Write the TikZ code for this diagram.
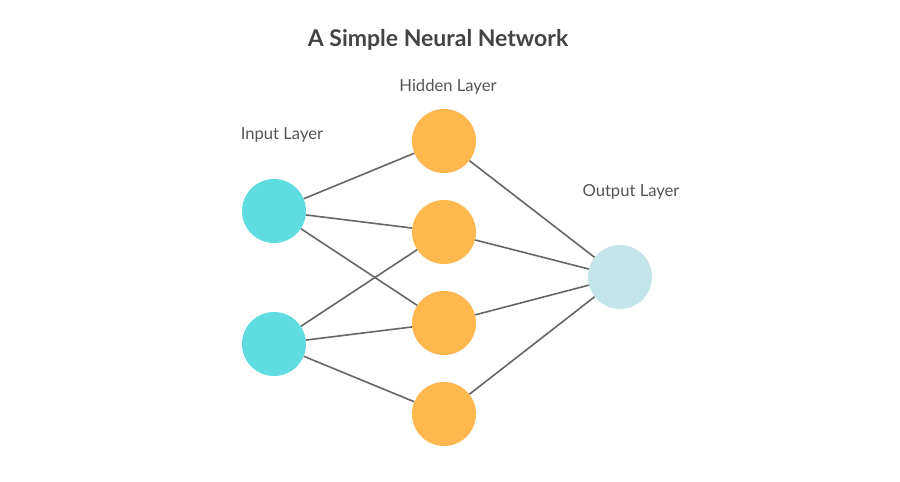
\documentclass[tikz,border=0pt]{standalone}
\usepackage{fontspec}
\setmainfont{Lato}
\definecolor{inputc}{HTML}{5FDCE0}
\definecolor{hiddenc}{HTML}{FFB84D}
\definecolor{outputc}{HTML}{C4E5E8}
\definecolor{linec}{HTML}{666666}
\definecolor{textc}{HTML}{555555}
\definecolor{titlec}{HTML}{444444}
\begin{document}
\begin{tikzpicture}[x=1pt,y=-1pt,
  neuron/.style={circle,minimum size=64pt,inner sep=0pt},
  inneuron/.style={neuron,fill=inputc},
  hidneuron/.style={neuron,fill=hiddenc},
  outneuron/.style={neuron,fill=outputc},
  conn/.style={draw=linec,line width=1.6pt},
  lbl/.style={text=textc,font=\fontsize{16.6}{20}\selectfont,inner sep=0pt},
  ttl/.style={text=titlec,font=\bfseries\fontsize{23}{28}\selectfont,inner sep=0pt}]
\useasboundingbox[fill=white] (0,0) rectangle (900,482);
\node[ttl] (title) at (438,40) {A Simple Neural Network};
\node[lbl] (lin) at (282,135) {Input Layer};
\node[lbl] (lhid) at (448,87) {Hidden Layer};
\node[lbl] (lout) at (631,192) {Output Layer};
\node[inneuron] (i1) at (274,211) {};
\node[inneuron] (i2) at (274,344) {};
\node[hidneuron] (h1) at (444,141) {};
\node[hidneuron] (h2) at (444,232) {};
\node[hidneuron] (h3) at (444,323) {};
\node[hidneuron] (h4) at (444,414) {};
\node[outneuron] (o) at (620,277) {};
\draw[conn] (i1) -- (h1);
\draw[conn] (i1) -- (h2);
\draw[conn] (i1) -- (h3);
\draw[conn] (i2) -- (h2);
\draw[conn] (i2) -- (h3);
\draw[conn] (i2) -- (h4);
\draw[conn] (h1) -- (o);
\draw[conn] (h2) -- (o);
\draw[conn] (h3) -- (o);
\draw[conn] (h4) -- (o);
\end{tikzpicture}
\end{document}
